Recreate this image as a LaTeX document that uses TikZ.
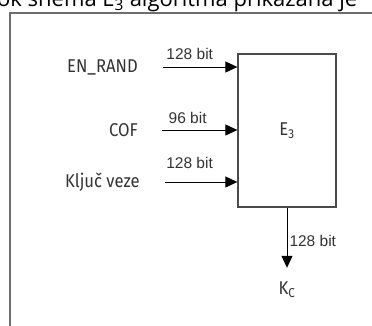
\documentclass[tikz,border=0pt]{standalone}
\usepackage{fontspec}
\setmainfont[FakeStretch=0.9]{Fira Sans}
\newfontfamily\bitfont{Liberation Sans}
\newfontfamily\headfont{Open Sans}
\usetikzlibrary{arrows.meta,positioning}
\definecolor{frameline}{HTML}{6E6E6E}
\definecolor{boxline}{HTML}{4A4A4A}
\definecolor{labeltext}{HTML}{333333}

\tikzset{
  bitlabel/.style={font=\bitfont\fontsize{15.5}{17}\selectfont,text=labeltext,inner sep=1pt},
  inlabel/.style={anchor=east,text=labeltext,inner sep=0pt},
  flow/.style={->,line width=1pt,black}
}

\begin{document}
\begin{tikzpicture}[x=1pt,y=-1pt,>={Triangle[length=12pt,width=11pt]},font=\fontsize{18.5}{21}\selectfont]
\useasboundingbox (0,0) rectangle (372,325);
\clip (0,0) rectangle (372,325);
% cut-off text line above the figure
\node[anchor=base west,inner sep=0,font=\headfont\fontsize{22}{25}\selectfont,text=black] (head) at (-3,6) {ok shema E\textsubscript{3} algoritma prikazana je};
\draw[frameline,line width=2pt] (10,330) -- (10,13) -- (380,13);
% block
\node[draw=boxline,line width=1.3pt,minimum width=98pt,minimum height=153pt,inner sep=0,text=labeltext] (e3) at (287,130.5) {E\textsubscript{3}};
% inputs
\node[inlabel] (enrand) at (138,67) {EN\_RAND};
\node[inlabel] (cof) at (138,130) {COF};
\node[inlabel] (kljuc) at (140,182) {Ključ veze};
\coordinate (in1) at (163,67);
\coordinate (in2) at (162,130);
\coordinate (in3) at (165,182);
\draw[flow] (in1) -- (in1 -| e3.west) node[bitlabel,pos=.36,above=6pt] {128 bit};
\draw[flow] (in2) -- (in2 -| e3.west) node[bitlabel,pos=.34,above=5pt] {96 bit};
\draw[flow] (in3) -- (in3 -| e3.west) node[bitlabel,pos=.34,above=12pt] {128 bit};
% output
\node[text=labeltext,inner sep=0pt] (kc) at (287,290) {K\textsubscript{C}};
\draw[flow,shorten >=14pt] (e3.south) -- (kc.north) node[bitlabel,pos=.45,right=1pt] {128 bit};
\end{tikzpicture}
\end{document}
